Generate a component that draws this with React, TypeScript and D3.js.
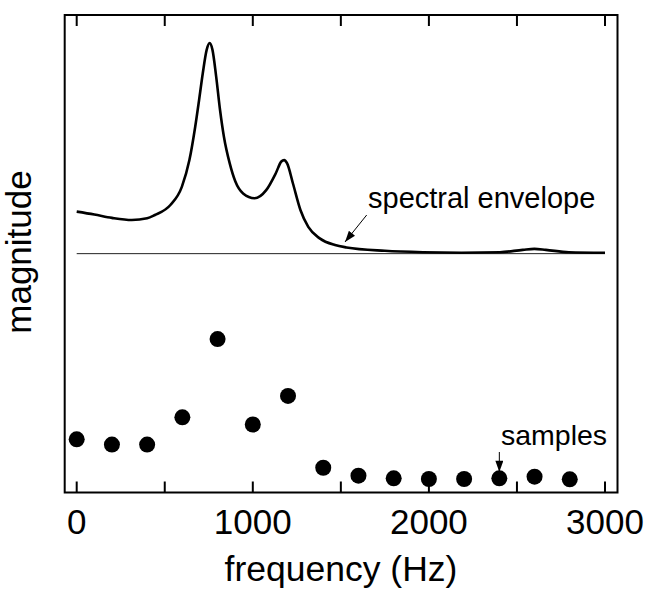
import React from "react";
import * as d3 from "d3";

// ---- data ----
const envelopeFreq = [0, 100, 200, 313, 400, 444, 532, 597, 640, 673, 695, 716, 738, 755, 771, 792, 814, 836, 869, 901, 945, 1010, 1076, 1130, 1162, 1178, 1195, 1228, 1271, 1315, 1380, 1467, 1532, 1750, 1967, 2185, 2403, 2533, 2599, 2664, 2795, 3000];
const envelopeMag = [58.8, 58.2, 57.5, 57.05, 57.4, 58.1, 60.2, 64.0, 69.6, 76.6, 82.2, 87.8, 92.7, 94.1, 92.7, 87.1, 80.1, 74.5, 68.9, 65.1, 62.6, 61.6, 63.3, 66.8, 69.3, 69.6, 68.9, 64.7, 59.1, 55.6, 53.2, 51.8, 51.3, 50.6, 50.3, 50.2, 50.3, 50.8, 51.0, 50.8, 50.3, 50.2];
const envelopeBase = 50;

const sampleFreq = [0, 200, 400, 600, 800, 1000, 1200, 1400, 1600, 1800, 2000, 2200, 2400, 2600, 2800];
const sampleMag = [11.1, 10.0, 10.0, 15.7, 32.1, 14.2, 20.2, 5.15, 3.48, 2.93, 2.79, 2.79, 2.93, 3.27, 2.72];

const tickValues = [0, 500, 1000, 1500, 2000, 2500, 3000];
const tickLabels = [0, 1000, 2000, 3000];

const W = 648, H = 590;
const frame = { left: 64.7, right: 617.5, top: 15, bottom: 492.5 };
const font = "'Liberation Sans', Arial, Helvetica, sans-serif";

export default function App() {
  const x = d3.scaleLinear().domain([0, 3000]).range([76.7, 605]);
  const y = d3.scaleLinear().domain([0, 100]).range([492.3, 15]);

  const env = envelopeFreq.map((f, i) => [f, envelopeMag[i]] as [number, number]);
  const line = d3
    .line<[number, number]>()
    .x((d) => x(d[0]))
    .y((d) => y(d[1]))
    .curve(d3.curveMonotoneX);

  const tickLen = 11;

  return (
    <svg
      width={W}
      height={H}
      style={{ position: "absolute", left: 0, top: 0, background: "#fff" }}
      fontFamily={font}
    >
      <defs>
        <marker id="ah" viewBox="0 0 14 10" refX="14" refY="5" markerWidth="12" markerHeight="8" markerUnits="userSpaceOnUse" orient="auto">
          <path d="M0,0 L14,5 L0,10 z" fill="#000" />
        </marker>
      </defs>
      <rect width={W} height={H} fill="#fff" />
      {/* frame */}
      <rect
        x={frame.left}
        y={frame.top}
        width={frame.right - frame.left}
        height={frame.bottom - frame.top}
        fill="none"
        stroke="#000"
        strokeWidth={2}
      />
      {/* ticks */}
      {tickValues.map((t) => (
        <g key={t}>
          <line x1={x(t)} x2={x(t)} y1={frame.top} y2={frame.top + tickLen} stroke="#000" strokeWidth={2} />
          <line x1={x(t)} x2={x(t)} y1={frame.bottom} y2={frame.bottom - tickLen} stroke="#000" strokeWidth={2} />
        </g>
      ))}
      {tickLabels.map((t) => (
        <text key={t} x={x(t)} y={534} textAnchor="middle" fontSize={35} fill="#000">
          {t}
        </text>
      ))}
      {/* baseline of envelope */}
      <line x1={x(0)} x2={x(3000)} y1={y(envelopeBase)} y2={y(envelopeBase)} stroke="#222" strokeWidth={1} />
      {/* envelope */}
      <path d={line(env) || ""} fill="none" stroke="#000" strokeWidth={2.6} strokeLinejoin="round" />
      {/* samples */}
      {sampleFreq.map((f, i) => (
        <circle key={f} cx={x(f)} cy={y(sampleMag[i])} r={8} fill="#000" />
      ))}
      {/* annotations */}
      <text x={368} y={208} fontSize={29} fill="#000">spectral envelope</text>
      <line x1={366.7} y1={215} x2={345} y2={242} stroke="#000" strokeWidth={1} markerEnd="url(#ah)" />
      <text x={501} y={445} fontSize={28.5} fill="#000">samples</text>
      <line x1={x(2400)} y1={452} x2={x(2400)} y2={472} stroke="#000" strokeWidth={1} markerEnd="url(#ah)" />
      {/* axis titles */}
      <text x={341} y={581} textAnchor="middle" fontSize={35.5} fill="#000">frequency (Hz)</text>
      <text transform={`translate(31,252) rotate(-90)`} textAnchor="middle" fontSize={35} fill="#000">magnitude</text>
    </svg>
  );
}
